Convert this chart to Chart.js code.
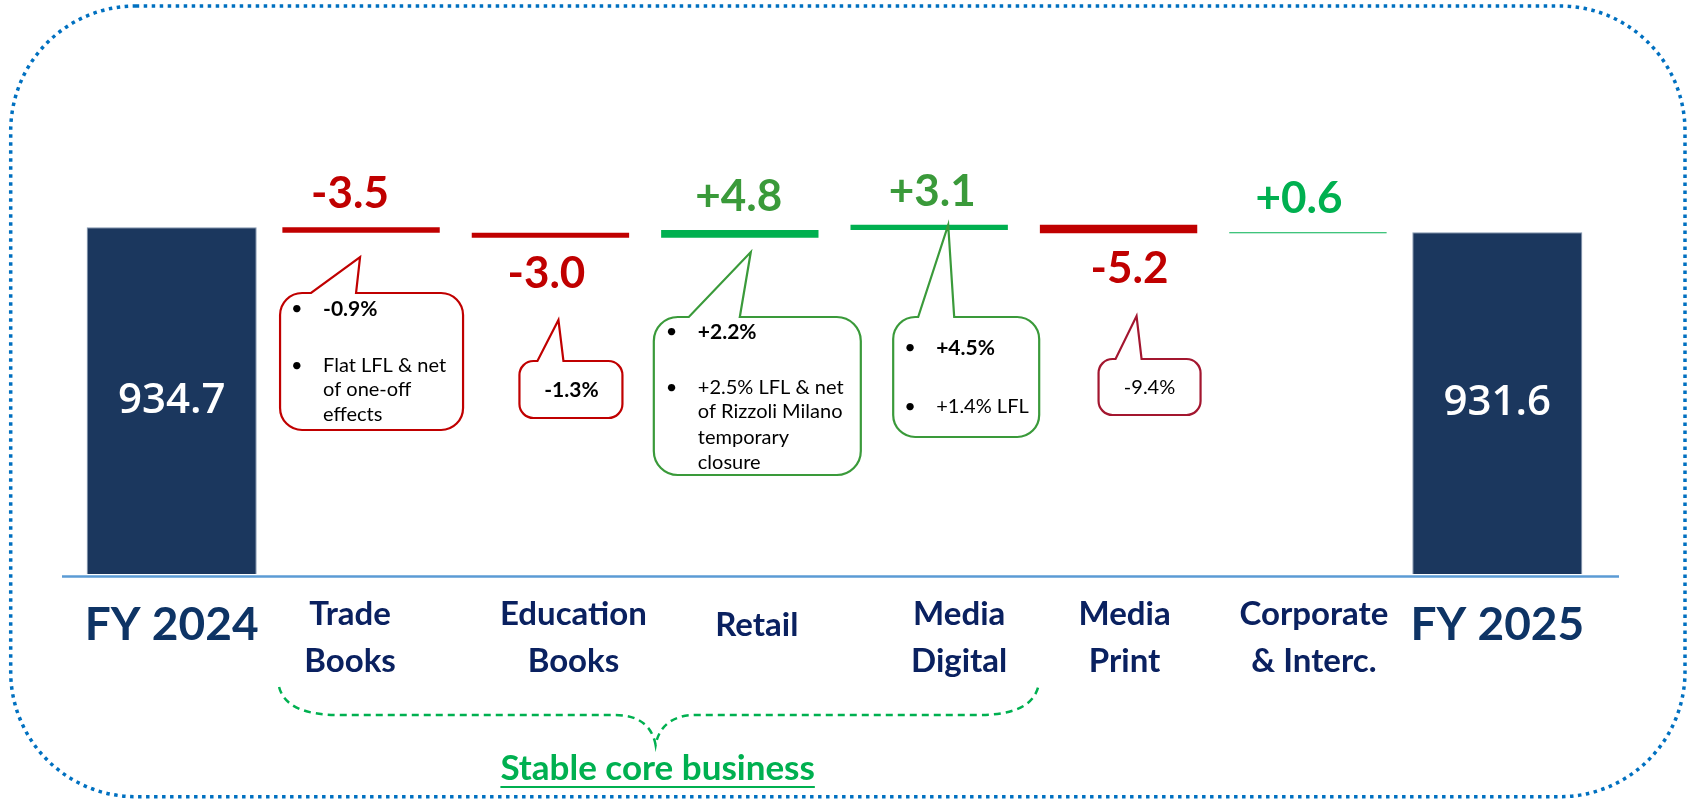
<!DOCTYPE html>
<html>
<head>
<meta charset="utf-8">
<script src="https://cdn.jsdelivr.net/npm/chart.js@4.4.1/dist/chart.umd.min.js"></script>
<style>
  html, body { margin: 0; padding: 0; background: #fff; }
  #wrap { width: 1696px; height: 800px; }
</style>
</head>
<body>
<div id="wrap"><canvas id="bridge" width="1696" height="800"></canvas></div>
<script>
// --- data (revenues, EUR m) ---
const categories = [['FY 2024'], ['Trade', 'Books'], ['Education', 'Books'], ['Retail'],
    ['Media', 'Digital'], ['Media', 'Print'], ['Corporate', '& Interc.'], ['FY 2025']];
const openingTotal = 934.7;
const closingTotal = 931.6;
const deltas = [-3.5, -3.0, 4.8, 3.1, -5.2, 0.6];
const notes = [
    ['-0.9%', 'Flat LFL & net', 'of one-off', 'effects'],
    ['-1.3%'],
    ['+2.2%', '+2.5% LFL & net', 'of Rizzoli Milano', 'temporary', 'closure'],
    ['+4.5%', '+1.4% LFL'],
    ['-9.4%']
];
const braceLabel = 'Stable core business';

// waterfall steps: each delta floats from the running total
const steps = [];
let running = openingTotal;
deltas.forEach(d => {
    const next = Math.round((running + d) * 10) / 10;
    steps.push([running, next]);
    running = next;
});

const RED = '#C00000';
const GREEN = '#00B050';
const NAVY = '#1B375E';

// styling of the annotations (offsets relative to the bar centre)
const deltaLabelSide = ['above', 'below', 'above', 'above', 'below', 'above'];
const deltaLabelShift = [-11, -4, -1, 3, 11, -9];
const deltaLabelColor = [RED, RED, '#3A9A3A', '#3A9A3A', RED, GREEN];
const labelShift = [0, -11, 23, 17, 30, 6, 6, 0];
const calloutStyle = [
    { stroke: RED, box: [-81, 102, 293, 430], tip: [-1, 257], base: [-50, -5], r: 22,
      bulletX: -70, textX: -38, ys: [309, 366, 390, 415], bold: [0], bullets: [0, 1] },
    { stroke: RED, box: [-31, 72, 361, 418], tip: [8, 320], base: [-13, 13], r: 14,
      textX: 21, center: true, ys: [390], bold: [0], bullets: [] },
    { stroke: '#3A9A3A', box: [-86, 121, 317, 475], tip: [11, 252], base: [-51, 0], r: 24,
      bulletX: -74, textX: -42, ys: [332, 388, 412, 438, 463], bold: [0], bullets: [0, 1] },
    { stroke: '#3A9A3A', box: [-36, 110, 317, 437], tip: [19, 225], base: [-11, 25], r: 22,
      bulletX: -25, textX: 7, ys: [348, 407], bold: [0], bullets: [0, 1] },
    { stroke: '#A3162F', box: [-20, 82, 359, 415], tip: [18, 316], base: [-3, 23], r: 14,
      textX: 31, center: true, ys: [388], bold: [], bullets: [] }
];

function speechBubble(ctx, x1, x2, y1, y2, r, b1, b2, tx, ty) {
    ctx.beginPath();
    ctx.moveTo(x1 + r, y1);
    ctx.lineTo(b1, y1);
    ctx.lineTo(tx, ty);
    ctx.lineTo(b2, y1);
    ctx.lineTo(x2 - r, y1);
    ctx.arcTo(x2, y1, x2, y1 + r, r);
    ctx.lineTo(x2, y2 - r);
    ctx.arcTo(x2, y2, x2 - r, y2, r);
    ctx.lineTo(x1 + r, y2);
    ctx.arcTo(x1, y2, x1, y2 - r, r);
    ctx.lineTo(x1, y1 + r);
    ctx.arcTo(x1, y1, x1 + r, y1, r);
    ctx.closePath();
}

const decorations = {
    id: 'decorations',
    beforeDatasetsDraw(chart) {
        const { ctx, chartArea } = chart;
        ctx.save();
        // dotted rounded frame
        ctx.strokeStyle = '#0070C0';
        ctx.lineWidth = 3.5;
        ctx.setLineDash([3.5, 4.5]);
        ctx.beginPath();
        ctx.roundRect(10.7, 6, 1674.3, 790.7, 125);
        ctx.stroke();
        // base line
        ctx.setLineDash([]);
        ctx.strokeStyle = '#5B9BD5';
        ctx.lineWidth = 2.5;
        ctx.beginPath();
        ctx.moveTo(chartArea.left - 15, chartArea.bottom + 2.5);
        ctx.lineTo(chartArea.right + 27, chartArea.bottom + 2.5);
        ctx.stroke();
        ctx.restore();
    },
    afterDraw(chart) {
        const { ctx, chartArea } = chart;
        const xs = chart.scales.x;
        const ys = chart.scales.y;
        const moves = chart.getDatasetMeta(1).data;
        ctx.save();
        ctx.setLineDash([]);

        // totals inside the bars
        ctx.fillStyle = '#FFFFFF';
        ctx.textAlign = 'center';
        ctx.textBaseline = 'middle';
        ctx.font = '600 42px "Open Sans"';
        [[0, openingTotal], [categories.length - 1, closingTotal]].forEach(([i, v]) => {
            const top = ys.getPixelForValue(v);
            ctx.fillText(v.toFixed(1), xs.getPixelForTick(i), (top + chartArea.bottom) / 2);
        });

        // delta values
        ctx.font = 'bold 44px Lato';
        ctx.textBaseline = 'alphabetic';
        deltas.forEach((d, k) => {
            const el = moves[k + 1];
            const top = Math.min(el.y, el.base), bottom = Math.max(el.y, el.base);
            ctx.fillStyle = deltaLabelColor[k];
            const txt = (d > 0 ? '+' : '') + d.toFixed(1);
            const y = deltaLabelSide[k] === 'above' ? top - 19 : bottom + 50;
            ctx.fillText(txt, el.x + deltaLabelShift[k], y);
        });

        // callouts
        calloutStyle.forEach((s, k) => {
            const cx = moves[k + 1].x;
            ctx.lineWidth = 2.2;
            ctx.strokeStyle = s.stroke;
            ctx.fillStyle = '#fff';
            speechBubble(ctx, cx + s.box[0], cx + s.box[1], s.box[2], s.box[3], s.r,
                cx + s.base[0], cx + s.base[1], cx + s.tip[0], s.tip[1]);
            ctx.fill();
            ctx.stroke();
            ctx.fillStyle = '#000';
            ctx.textBaseline = 'middle';
            notes[k].forEach((line, j) => {
                ctx.font = (s.bold.includes(j) ? 'bold 21px' : '20px') + ' Lato';
                if (s.center) {
                    ctx.textAlign = 'center';
                    ctx.fillText(line, cx + s.textX, s.ys[j]);
                } else {
                    ctx.textAlign = 'left';
                    ctx.fillText(line, cx + s.textX, s.ys[j]);
                    if (s.bullets.includes(j)) {
                        ctx.font = '20px Lato';
                        ctx.fillText('\u2022', cx + s.bulletX, s.ys[j]);
                    }
                }
            });
        });

        // category labels
        ctx.textAlign = 'center';
        ctx.textBaseline = 'middle';
        categories.forEach((lab, i) => {
            const x = xs.getPixelForTick(i) + labelShift[i];
            const isTotal = i === 0 || i === categories.length - 1;
            ctx.fillStyle = isTotal ? '#0E3465' : '#0A2160';
            ctx.font = isTotal ? 'bold 46px Lato' : 'bold 33px Lato';
            if (lab.length === 1) {
                ctx.fillText(lab[0], x, 625);
            } else {
                ctx.fillText(lab[0], x, 614);
                ctx.fillText(lab[1], x, 661);
            }
        });

        // brace under the core business segments
        const L = xs.getPixelForTick(1) - 82;
        const R = xs.getPixelForTick(4) + 109;
        const T = (L + R) / 2 - 3;
        ctx.strokeStyle = GREEN;
        ctx.lineWidth = 2.5;
        ctx.setLineDash([7, 5]);
        ctx.beginPath();
        ctx.moveTo(L, 687);
        ctx.bezierCurveTo(L + 5, 706, L + 25, 715, L + 60, 715);
        ctx.lineTo(T - 40, 715);
        ctx.bezierCurveTo(T - 15, 715, T - 3, 728, T, 745);
        ctx.bezierCurveTo(T + 3, 728, T + 15, 715, T + 40, 715);
        ctx.lineTo(R - 60, 715);
        ctx.bezierCurveTo(R - 25, 715, R - 5, 706, R, 687);
        ctx.stroke();
        ctx.setLineDash([]);

        ctx.fillStyle = GREEN;
        ctx.font = 'bold 35px Lato';
        ctx.textAlign = 'center';
        ctx.textBaseline = 'alphabetic';
        ctx.fillText(braceLabel, T + 2, 780);
        const w = ctx.measureText(braceLabel).width;
        ctx.fillRect(T + 2 - w / 2, 786, w, 2);
        ctx.restore();
    }
};

const totalData = categories.map((c, i) => i === 0 ? openingTotal : (i === categories.length - 1 ? closingTotal : null));
const moveData = categories.map((c, i) => (i > 0 && i <= deltas.length) ? steps[i - 1] : null);
const moveColors = [null].concat(deltas.map(d => d < 0 ? RED : GREEN)).concat([null]);

new Chart(document.getElementById('bridge'), {
    type: 'bar',
    data: {
        labels: categories,
        datasets: [{
            data: totalData,
            backgroundColor: NAVY,
            borderColor: '#8497B0',
            borderWidth: 1,
            barPercentage: 0.898,
            categoryPercentage: 1
        }, {
            data: moveData,
            backgroundColor: moveColors,
            borderWidth: 0,
            barPercentage: 0.831,
            categoryPercentage: 1
        }]
    },
    options: {
        responsive: false,
        animation: false,
        devicePixelRatio: 1,
        layout: { padding: { left: 77, right: 104, top: 40, bottom: 0 } },
        plugins: { legend: { display: false }, tooltip: { enabled: false } },
        datasets: { bar: { grouped: false } },
        scales: {
            x: {
                grid: { display: false, drawTicks: false },
                border: { display: false },
                ticks: { display: false },
                afterFit(scale) { scale.height = 226; }
            },
            y: {
                display: false,
                min: 721,
                max: 1050
            }
        }
    },
    plugins: [decorations]
});
</script>
</body>
</html>
